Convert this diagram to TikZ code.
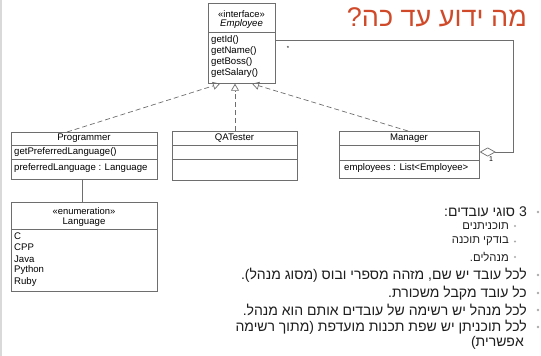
\documentclass[tikz,border=0pt]{standalone}
\usepackage{fontspec}
\setmainfont{Liberation Sans}
\newfontfamily\heb[Script=Hebrew]{Liberation Sans}
\TeXXeTstate=1
\usetikzlibrary{arrows.meta,calc}
\definecolor{umlline}{RGB}{110,110,110}
\definecolor{titlecol}{RGB}{208,74,42}
\definecolor{bodytext}{RGB}{30,30,30}
\definecolor{bulletcol}{RGB}{170,170,170}
\begin{document}
\begin{tikzpicture}[x=1pt,y=-1pt,
  umlbox/.style={draw=umlline, line width=0.7pt, anchor=north west, inner sep=0pt},
  sep/.style={draw=umlline, line width=0.7pt},
  umltxt/.style={font=\fontsize{9.6}{11}\selectfont, inner sep=0pt, text=black},
  stereo/.style={font=\fontsize{9.4}{10}\selectfont, inner sep=0pt, text=black},
  realize/.style={draw=umlline, line width=0.7pt, dash pattern=on 5pt off 3pt,
     -{Triangle[open, length=7pt, width=8pt]}},
  assoc/.style={draw=umlline, line width=0.7pt},
  aggr/.style={draw=umlline, line width=0.7pt, -{Diamond[open, length=16pt, width=9pt]}},
  title/.style={font=\heb\fontsize{27}{30}\selectfont, text=titlecol, inner sep=0pt, anchor=east},
  lvlone/.style={font=\heb\fontsize{14}{16}\selectfont, text=bodytext, inner sep=0pt, anchor=east},
  lvltwo/.style={font=\heb\fontsize{11.3}{13}\selectfont, text=bodytext, inner sep=0pt, anchor=east},
  dot/.style={circle, fill=bulletcol, inner sep=0pt, minimum size=2.6pt},
  smalldot/.style={circle, fill=bulletcol, inner sep=0pt, minimum size=2.2pt}]
\useasboundingbox (0,0) rectangle (541,356);
\fill[white] (0,0) rectangle (541,356);
\draw[draw=black!15, line width=1.5pt] (0.75,0) -- (0.75,356);

% Employee
\node[umlbox, minimum width=67pt, minimum height=80pt] (emp) at (208,3) {};
\draw[sep] (208,32) -- (275,32);
\node[stereo] (empst) at (241.5,14) {«interface»};
\node[umltxt, font=\fontsize{9.6}{11}\selectfont\itshape] (empname) at (241.5,24.5) {Employee};
\node[umltxt, anchor=west] (m1) at (211,40) {getId()};
\node[umltxt, anchor=west] (m2) at (211,51) {getName()};
\node[umltxt, anchor=west] (m3) at (211,62) {getBoss()};
\node[umltxt, anchor=west] (m4) at (211,73) {getSalary()};

% Programmer
\node[umlbox, minimum width=146pt, minimum height=47pt] (prog) at (11,132) {};
\draw[sep] (11,145) -- (157,145);
\draw[sep] (11,159) -- (157,159);
\node[umltxt] (progname) at (84,138.5) {Programmer};
\node[umltxt, anchor=west] (progm) at (14,152) {getPreferredLanguage()};
\node[umltxt, anchor=west] (proga) at (14,168) {preferredLanguage : Language};

% QATester
\node[umlbox, minimum width=125pt, minimum height=49pt] (qa) at (172,131) {};
\draw[sep] (172,145) -- (297,145);
\draw[sep] (172,159) -- (297,159);
\node[umltxt] (qaname) at (234.5,138) {QATester};

% Manager
\node[umlbox, minimum width=140pt, minimum height=47pt] (mgr) at (339,131) {};
\draw[sep] (339,145) -- (479,145);
\draw[sep] (339,160) -- (479,160);
\node[umltxt] (mgrname) at (409,138) {Manager};
\node[umltxt, anchor=west] (mgra) at (344,168) {employees : List<Employee>};

% Language
\node[umlbox, minimum width=146pt, minimum height=89pt] (lang) at (11,202) {};
\draw[sep] (11,229) -- (157,229);
\node[stereo] (langst) at (84,211) {«enumeration»};
\node[umltxt] (langname) at (84,222) {Language};
\node[umltxt, anchor=west] (l1) at (14,236) {C};
\node[umltxt, anchor=west] (l2) at (14,247.5) {CPP};
\node[umltxt, anchor=west] (l3) at (14,259) {Java};
\node[umltxt, anchor=west] (l4) at (14,270.5) {Python};
\node[umltxt, anchor=west] (l5) at (14,282) {Ruby};

% connectors
\draw[realize] ($(prog.north west)+(56,0)$) -- ($(emp.south west)+(12,0)$);
\draw[realize] ($(qa.north west)+(63,0)$) -- ($(emp.south west)+(27,0)$);
\draw[realize] ($(mgr.north west)+(69,0)$) -- ($(emp.south west)+(44,0)$);
\draw[assoc] ($(prog.south west)+(71,0)$) -- ($(lang.north west)+(71,0)$);
\coordinate (c1) at (513,40);
\coordinate (c2) at (513,152);
\draw[aggr] ($(emp.north east)+(0,37)$) -- (c1) -- (c2) -- ($(mgr.north east)+(0,21)$);
\node[font=\fontsize{6}{7}\selectfont, inner sep=0pt] (star) at (288,48) {*};
\node[font=\fontsize{7}{8}\selectfont, inner sep=0pt] (one) at (491,159) {1};

% title
\node[title] (ttl) at (527,17) {\beginR מה ידוע עד כה?\endR};

% bullets
\node[dot] (b1) at (538,212) {};
\node[lvlone] (t1) at (527,212) {\beginR 3 סוגי עובדים:\endR};
\node[smalldot] (b2) at (515,226) {};
\node[lvltwo] (t2) at (509,226) {\beginR תוכניתנים\endR};
\node[smalldot] (b3) at (515,241.5) {};
\node[lvltwo] (t3) at (509,241.5) {\beginR בודקי תוכנה\endR};
\node[smalldot] (b4) at (515,257) {};
\node[lvltwo] (t4) at (509,257) {\beginR מנהלים.\endR};
\node[dot] (b5) at (538,275) {};
\node[lvlone] (t5) at (527,275) {\beginR לכל עובד יש שם, מזהה מספרי ובוס (מסוג מנהל).\endR};
\node[dot] (b6) at (538,293) {};
\node[lvlone] (t6) at (527,293) {\beginR כל עובד מקבל משכורת.\endR};
\node[dot] (b7) at (538,310) {};
\node[lvlone] (t7) at (527,310) {\beginR לכל מנהל יש רשימה של עובדים אותם הוא מנהל.\endR};
\node[dot] (b8) at (538,327) {};
\node[lvlone] (t8) at (527,327) {\beginR לכל תוכניתן יש שפת תכנות מועדפת (מתוך רשימה\endR};
\node[lvlone] (t9) at (524,343) {\beginR אפשרית)\endR};
\end{tikzpicture}
\end{document}
